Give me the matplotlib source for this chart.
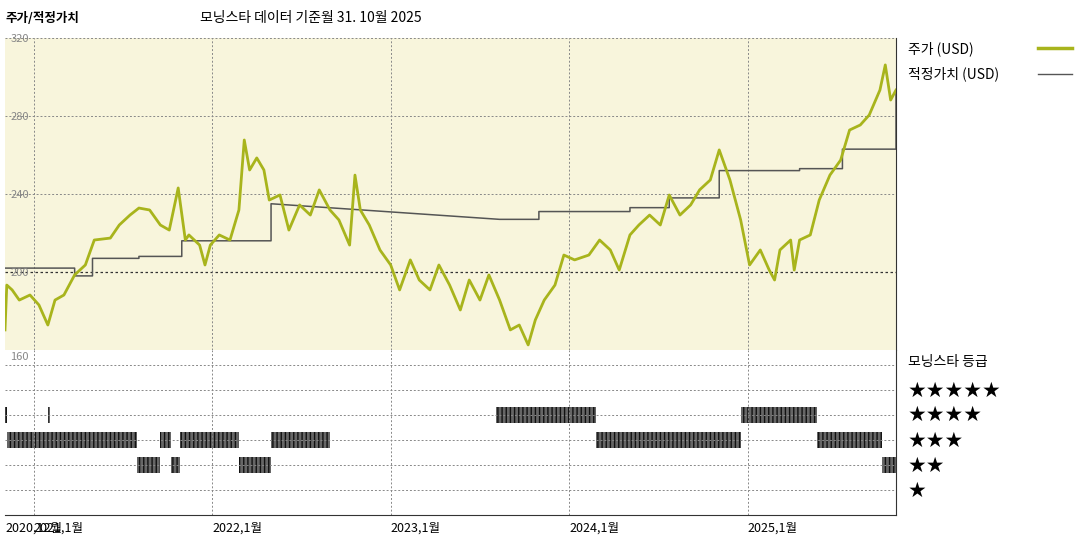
import numpy as np
import matplotlib.pyplot as plt

plt.rcParams['font.family'] = ['Noto Sans CJK KR', 'DejaVu Sans']

# price (USD), x in decimal years
price_x = [2020.84,2020.85,2020.88,2020.92,2020.98,2021.03,2021.08,2021.12,2021.17,2021.23,2021.29,2021.34,
           2021.43,2021.48,2021.54,2021.59,2021.65,2021.71,2021.76,2021.81,2021.85,2021.87,2021.93,2021.96,
           2021.99,2022.04,2022.10,2022.15,2022.18,2022.21,2022.25,2022.29,2022.32,2022.38,2022.43,2022.49,
           2022.55,2022.60,2022.66,2022.71,2022.77,2022.80,2022.83,2022.88,2022.94,2023.00,2023.05,2023.11,
           2023.16,2023.22,2023.27,2023.33,2023.39,2023.44,2023.50,2023.55,2023.61,2023.67,2023.72,2023.77,
           2023.81,2023.86,2023.92,2023.97,2024.03,2024.11,2024.17,2024.23,2024.28,2024.34,2024.39,2024.45,
           2024.51,2024.56,2024.62,2024.68,2024.73,2024.79,2024.84,2024.90,2024.96,2025.01,2025.07,2025.12,
           2025.15,2025.18,2025.24,2025.26,2025.29,2025.35,2025.40,2025.46,2025.52,2025.57,2025.63,2025.68,
           2025.74,2025.77,2025.80,2025.83]
price_y = [170.3,193.3,190.8,185.6,188.2,183.1,172.8,185.6,188.2,198.5,203.6,216.4,
           217.4,224.1,229.2,232.8,231.8,224.1,221.5,243.1,216.4,219.0,213.8,203.6,
           213.8,219.0,216.4,231.8,267.7,252.3,258.5,252.3,236.9,239.5,221.5,234.4,
           229.2,242.1,231.8,226.7,213.8,249.7,231.8,224.1,211.3,203.6,190.8,206.2,
           195.9,190.8,203.6,193.3,180.5,195.9,185.6,198.5,185.6,170.3,172.8,162.6,
           175.4,185.6,193.3,208.7,206.2,208.7,216.4,211.3,201.0,219.0,224.1,229.2,
           224.1,239.5,229.2,234.4,242.1,247.2,262.6,247.2,226.7,203.6,211.3,201.0,
           195.9,211.3,216.4,201.0,216.4,219.0,236.9,249.7,257.4,272.8,275.4,280.5,
           293.3,306.2,288.2,293.3]

# fair value (USD)
fv_x = [2020.84,2021.23,2021.23,2021.33,2021.33,2021.59,2021.59,2021.83,2021.83,2022.33,2022.33,
        2023.61,2023.83,2023.83,2024.34,2024.34,2024.56,2024.56,2024.84,2024.84,2025.29,2025.29,
        2025.53,2025.53,2025.83,2025.83]
fv_y = [202,202,198,198,207,207,208,208,216,216,235,
        227,227,231,231,233,233,238,238,252,252,253,
        253,263,263,292]

# Morningstar rating periods: (start, end, stars)
rating_periods = [(2020.84,2020.85,4),(2021.08,2021.09,4),(2023.59,2024.15,4),(2024.96,2025.39,4),
                  (2020.85,2021.58,3),(2021.71,2021.77,3),(2021.82,2022.15,3),(2022.33,2022.66,3),
                  (2024.15,2024.96,3),(2025.39,2025.75,3),
                  (2021.58,2021.71,2),(2021.77,2021.82,2),(2022.15,2022.33,2),(2025.75,2025.83,2)]

tick_pos = [2020.84,2021.0,2022.0,2023.0,2024.0,2025.0]
tick_labels = ['2020,12월','2021,1월','2022,1월','2023,1월','2024,1월','2025,1월']

W, H = 1080, 540
fig = plt.figure(figsize=(10.8,5.4), dpi=100)
x0, x1 = 2020.84, 2025.83

def box(l, t, r, b):
    return [l/W, 1-b/H, (r-l)/W, (b-t)/H]

grid_kw = dict(color='#888888', lw=0.7, ls=(0,(2,2)))

ax = fig.add_axes(box(5,38,896,350))
ax.set_facecolor('#f8f5dc')
ax.set_xlim(x0, x1)
ax.set_ylim(160, 320)
for g in [240,280,320]:
    ax.axhline(g, **grid_kw)
ax.axhline(200, color='#333333', lw=0.9, ls=(0,(2,2)))
for t in tick_pos[1:]:
    ax.axvline(t, **grid_kw)
for g in [200,240,280,320]:
    ax.text(x0+0.03, g-3, str(g), fontsize=8, color='#888888', va='bottom')
ax.plot(fv_x, fv_y, color='#555555', lw=1.1)
ax.plot(price_x, price_y, color='#a8b41c', lw=2)
ax.set_xticks([]); ax.set_yticks([])
for s in ['top','left','bottom']:
    ax.spines[s].set_visible(False)
ax.spines['right'].set_color('#333333')

ax2 = fig.add_axes(box(5,350,896,515))
ax2.set_xlim(x0, x1)
ax2.set_ylim(0, 6.6)
ax2.text(x0+0.03, 6.1, '160', fontsize=8, color='#888888', va='bottom')
for g in [1,2,3,4,5,6]:
    ax2.axhline(g, **grid_kw)
for t in tick_pos[1:]:
    ax2.axvline(t, **grid_kw)
for s, e, st in rating_periods:
    ax2.broken_barh([(s, e-s)], (st-0.32, 0.64), facecolor='#666666',
                    edgecolor='#111111', hatch='||||', lw=0)
ax2.set_xticks([]); ax2.set_yticks([])
ax2.spines['top'].set_visible(False)
ax2.spines['left'].set_visible(False)
ax2.spines['right'].set_color('#333333')
ax2.spines['bottom'].set_color('#333333')
for t, lab in zip(tick_pos, tick_labels):
    ax2.text(t, -0.25, lab, fontsize=9, va='top', ha='left')

fig.text(5/W, 1-18/H, '주가/적정가치', fontsize=9, fontweight='bold', va='center')
fig.text(200/W, 1-18/H, '모닝스타 데이터 기준월 31. 10월 2025', fontsize=10, va='center')

fig.text(908/W, 1-49/H, '주가 (USD)', fontsize=10, va='center')
fig.add_artist(plt.Line2D([1038/W,1072/W],[1-48/H,1-48/H], color='#a8b41c', lw=2.5))
fig.text(908/W, 1-74/H, '적정가치 (USD)', fontsize=10, va='center')
fig.add_artist(plt.Line2D([1038/W,1072/W],[1-74/H,1-74/H], color='#555555', lw=1))
fig.text(908/W, 1-362/H, '모닝스타 등급', fontsize=10, va='center')
for i, n in enumerate([5,4,3,2,1]):
    y = [391,415,441,466,491][i]
    fig.text(908/W, 1-y/H, '★'*n, fontsize=15, va='center', family=['DejaVu Sans'])

fig.savefig('out.png', dpi=100)
